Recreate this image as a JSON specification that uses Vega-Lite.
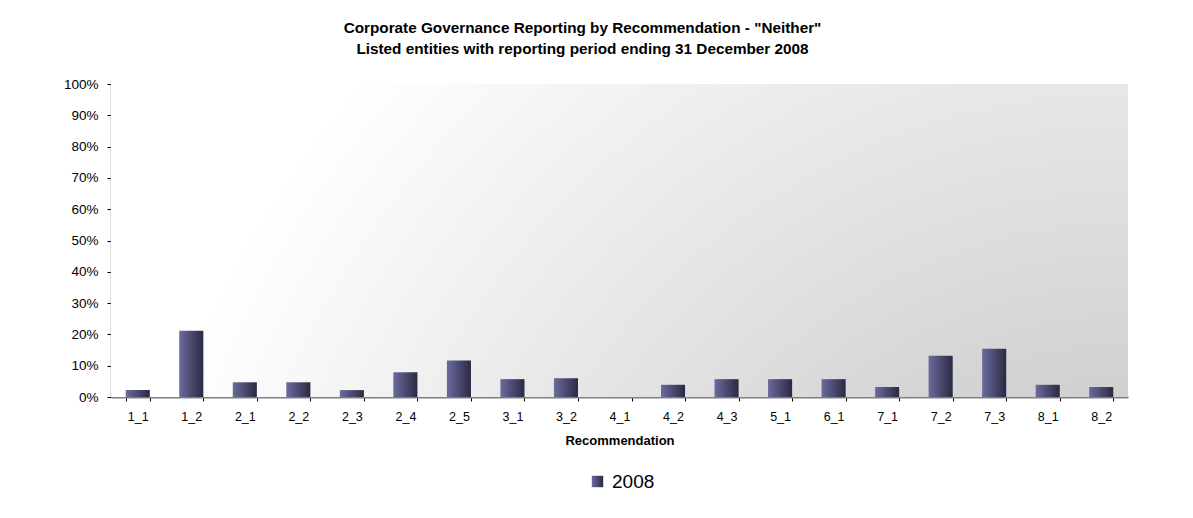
{
  "$schema": "https://vega.github.io/schema/vega-lite/v6.json",
  "width": 1017,
  "height": 313,
  "autosize": "none",
  "padding": {"left": 111, "top": 84, "right": 65, "bottom": 121},
  "background": "white",
  "title": {
    "text": ["Corporate Governance Reporting by Recommendation - \"Neither\"", "Listed entities with reporting period ending 31 December 2008"],
    "font": "Liberation Sans",
    "fontSize": 15.3,
    "fontWeight": "bold",
    "color": "#000000",
    "anchor": "middle",
    "frame": "group",
    "dx": -37,
    "offset": 20,
    "lineHeight": 21
  },
  "config": {
    "view": {"stroke": null},
    "font": "Liberation Sans"
  },
  "layer": [
    {
      "data": {"values": [{"bg": 1}]},
      "mark": {
        "type": "rect",
        "fill": {
          "gradient": "radial",
          "x1": 1, "y1": 1, "r1": 0,
          "x2": 1, "y2": 1, "r2": 1.0,
          "stops": [
            {"offset": 0, "color": "#b6b6b6"},
            {"offset": 0.5, "color": "#dcdcdc"},
            {"offset": 1, "color": "#ffffff"}
          ]
        }
      },
      "encoding": {}
    },
    {
      "data": {
        "values": [
          {"rec": "1_1", "value": 0.022, "series": "2008"},
          {"rec": "1_2", "value": 0.212, "series": "2008"},
          {"rec": "2_1", "value": 0.047, "series": "2008"},
          {"rec": "2_2", "value": 0.047, "series": "2008"},
          {"rec": "2_3", "value": 0.022, "series": "2008"},
          {"rec": "2_4", "value": 0.079, "series": "2008"},
          {"rec": "2_5", "value": 0.117, "series": "2008"},
          {"rec": "3_1", "value": 0.057, "series": "2008"},
          {"rec": "3_2", "value": 0.060, "series": "2008"},
          {"rec": "4_1", "value": 0, "series": "2008"},
          {"rec": "4_2", "value": 0.039, "series": "2008"},
          {"rec": "4_3", "value": 0.057, "series": "2008"},
          {"rec": "5_1", "value": 0.057, "series": "2008"},
          {"rec": "6_1", "value": 0.057, "series": "2008"},
          {"rec": "7_1", "value": 0.032, "series": "2008"},
          {"rec": "7_2", "value": 0.132, "series": "2008"},
          {"rec": "7_3", "value": 0.154, "series": "2008"},
          {"rec": "8_1", "value": 0.039, "series": "2008"},
          {"rec": "8_2", "value": 0.032, "series": "2008"}
        ]
      },
      "mark": {
        "type": "bar",
        "fill": {
          "gradient": "linear",
          "x1": 0, "y1": 0, "x2": 1, "y2": 0,
          "stops": [
            {"offset": 0, "color": "#6b6b9e"},
            {"offset": 1, "color": "#2a2a44"}
          ]
        }
      },
      "encoding": {
        "x": {
          "field": "rec",
          "type": "nominal",
          "sort": null,
          "scale": {"paddingInner": 0.55, "paddingOuter": 0.275},
          "axis": {
            "title": "Recommendation",
            "titleFont": "Liberation Sans",
            "titleFontSize": 13,
            "titleFontWeight": "bold",
            "titleColor": "#000000",
            "titlePadding": 12,
            "labelFont": "Liberation Sans",
            "labelFontSize": 12.5,
            "labelColor": "#000000",
            "labelAngle": 0,
            "labelPadding": 9,
            "tickBand": "extent",
            "tickSize": 4,
            "tickColor": "#000000",
            "domainColor": "#808080",
            "domainWidth": 2,
            "grid": false
          }
        },
        "y": {
          "field": "value",
          "type": "quantitative",
          "scale": {"domain": [0, 1], "nice": false},
          "axis": {
            "title": null,
            "values": [0, 0.1, 0.2, 0.3, 0.4, 0.5, 0.6, 0.7, 0.8, 0.9, 1],
            "format": ".0%",
            "labelFont": "Liberation Sans",
            "labelFontSize": 13.5,
            "labelColor": "#000000",
            "labelPadding": 9,
            "tickSize": 4,
            "tickColor": "#000000",
            "domainColor": "#808080",
            "domainWidth": 1.5,
            "grid": true,
            "gridColor": "#ffffff",
            "gridWidth": 1.2
          }
        },
        "opacity": {
          "field": "series",
          "type": "nominal",
          "scale": {"domain": ["2008"], "range": [1]},
          "legend": {
            "title": null,
            "orient": "none",
            "legendX": 477,
            "legendY": 388,
            "direction": "horizontal",
            "symbolType": "square",
            "symbolSize": 130,
            "symbolStrokeWidth": 0,
            "labelFont": "Liberation Sans",
            "labelFontSize": 19,
            "labelColor": "#000000",
            "labelOffset": 5,
            "encode": {
              "symbols": {
                "update": {
                  "fill": {"value": {
                    "gradient": "linear",
                    "x1": 0, "y1": 0, "x2": 1, "y2": 0,
                    "stops": [
                      {"offset": 0, "color": "#6b6b9e"},
                      {"offset": 1, "color": "#2a2a44"}
                    ]
                  }},
                  "opacity": {"value": 1}
                }
              }
            }
          }
        }
      }
    }
  ]
}
